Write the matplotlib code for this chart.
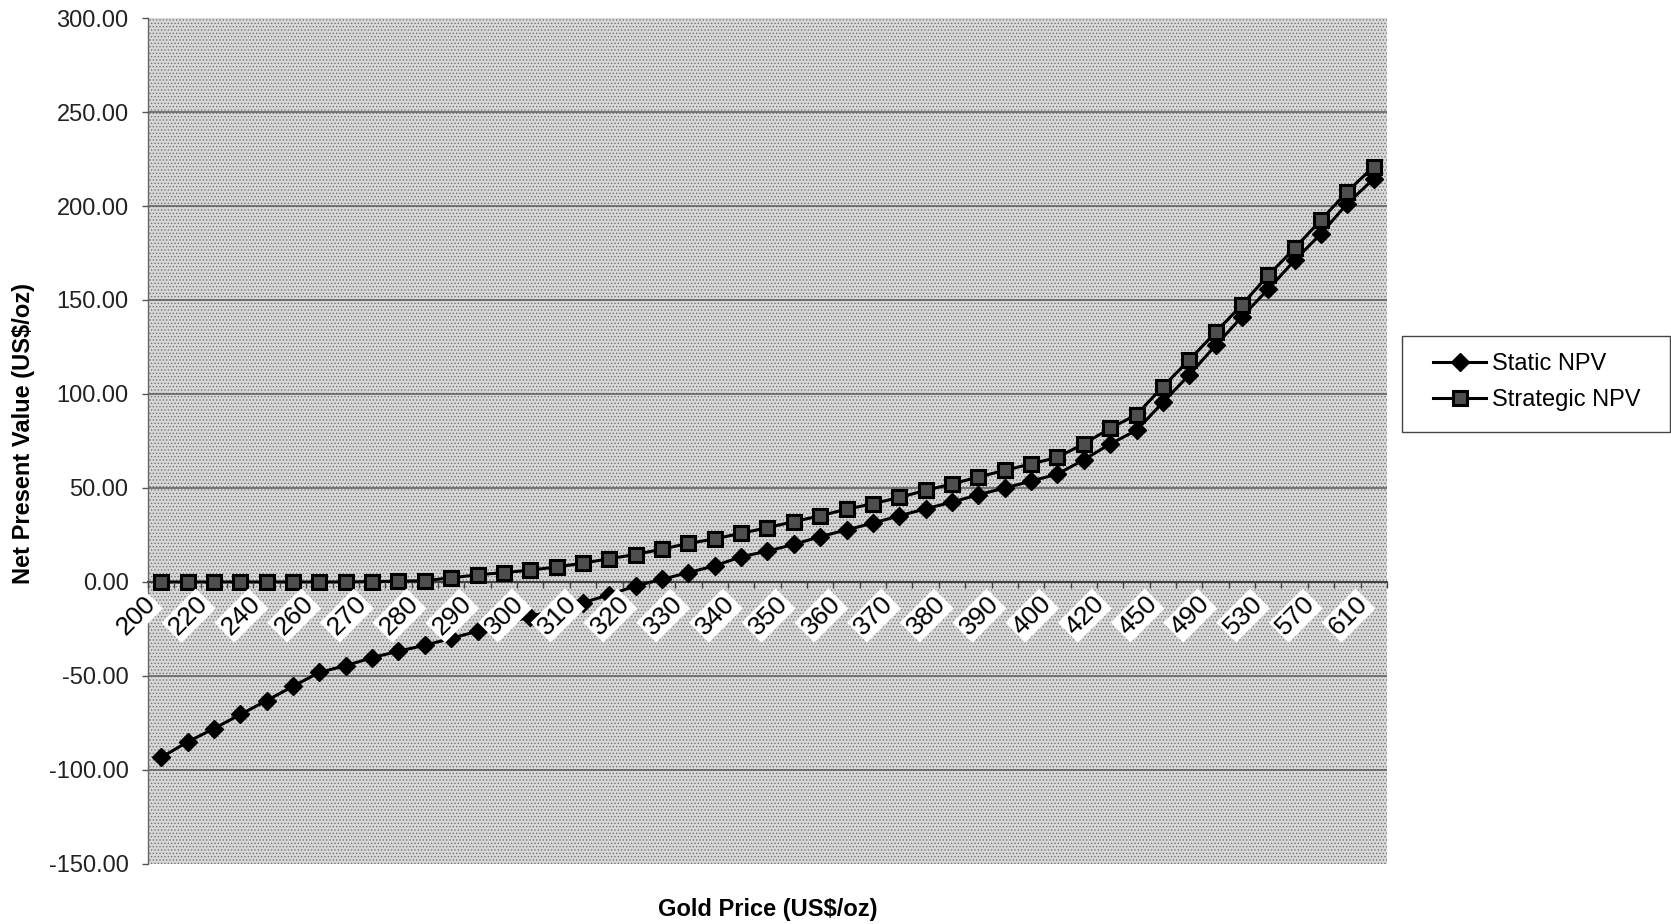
import matplotlib
matplotlib.use("Agg")
import matplotlib.pyplot as plt
import matplotlib.transforms as mtransforms
from matplotlib.patches import Rectangle
import numpy as np

plt.rcParams['font.family'] = ['Liberation Sans', 'DejaVu Sans']
plt.rcParams['hatch.linewidth'] = 0.6

# Gold price scenarios (US$/oz) and NPV results
gold_price = [200, 210, 220, 230, 240, 250, 260, 265, 270, 275, 280, 285,
              290, 295, 300, 305, 310, 315, 320, 325, 330, 335, 340, 345,
              350, 355, 360, 365, 370, 375, 380, 385, 390, 395, 400, 410,
              420, 435, 450, 470, 490, 510, 530, 550, 570, 590, 610]

static_npv = [-93.3, -85.1, -78.0, -70.5, -63.1, -55.5, -48.1, -44.5, -40.3,
              -36.8, -33.7, -30.0, -26.2, -22.4, -18.4, -14.7, -11.0, -6.8,
              -2.1, 1.4, 5.0, 8.6, 13.4, 16.4, 20.0, 24.1, 27.7, 31.3, 35.2,
              38.9, 42.5, 46.4, 50.0, 53.6, 57.4, 65.0, 73.4, 80.7, 95.5,
              110.2, 125.8, 141.1, 155.8, 171.1, 185.3, 201.3, 214.5]

strategic_npv = [0.0, 0.0, 0.0, 0.0, 0.0, 0.0, 0.0, 0.0, 0.2, 0.4, 0.7, 2.2,
                 3.8, 5.0, 6.3, 8.0, 10.0, 12.4, 14.6, 17.5, 20.5, 22.9, 25.9,
                 28.9, 32.1, 35.2, 38.7, 41.6, 45.0, 48.7, 52.2, 55.8, 59.4,
                 62.8, 66.3, 73.5, 81.7, 89.0, 103.9, 118.1, 132.8, 147.5,
                 163.2, 177.5, 192.6, 207.7, 221.0]

y_ticks = [-150, -100, -50, 0, 50, 100, 150, 200, 250, 300]

x = np.arange(len(gold_price))

fig = plt.figure(figsize=(16.71, 9.24), dpi=100)
ax = fig.add_axes([0.0886, 0.065, 0.7414, 0.9155])

# stippled plot area (hatch takes the patch edge colour)
ax.patch.set_facecolor('#d8d8d8')
ax.patch.set_edgecolor('#727272')
ax.patch.set_linewidth(0)
ax.patch.set_hatch('.....')

for v in y_ticks:
    if v not in (0, y_ticks[0], y_ticks[-1]):
        ax.axhline(v, color='#5a5a5a', lw=1.1, zorder=1)

ax.plot(x, static_npv, color='black', lw=2.2, marker='D', ms=9,
        mfc='black', mec='black', label='Static NPV', zorder=2)
ax.plot(x, strategic_npv, color='black', lw=2.2, marker='s', ms=9.5,
        mfc='#4e4e4e', mec='black', mew=2.2, label='Strategic NPV', zorder=2)

ax.set_xlim(-0.5, len(gold_price) - 0.5)
ax.set_ylim(y_ticks[0], y_ticks[-1])

for side in ['top', 'right']:
    ax.spines[side].set_visible(False)
ax.spines['bottom'].set_position(('data', 0))
ax.spines['bottom'].set_color('#333333')
ax.spines['bottom'].set_linewidth(1.3)
ax.spines['left'].set_color('#666666')
ax.spines['left'].set_linewidth(1.0)
for sp in ax.spines.values():
    sp.set_zorder(1.5)
ax.set_axisbelow(False)

ax.set_yticks(y_ticks)
ax.set_yticklabels([f'{v:.2f}' for v in y_ticks])
ax.tick_params(axis='y', direction='out', length=4, width=1, color='#555555',
               pad=10, labelsize=17, labelcolor='#222222')

# category boundaries get the tick marks, every second category gets a label
ax.set_xticks(np.arange(len(gold_price) + 1) - 0.5)
ax.set_xticklabels([])
ax.tick_params(axis='x', which='major', direction='out', length=4, width=1,
               color='#444444')
ax.set_xticks(x[::2], [str(p) for p in gold_price[::2]], minor=True)
ax.tick_params(axis='x', which='minor', length=0, pad=13, labelsize=19)
shift = mtransforms.ScaledTranslation(-7 / 72, 0, fig.dpi_scale_trans)
for lbl in ax.get_xticklabels(minor=True):
    lbl.set_rotation(45)
    lbl.set_ha('right')
    lbl.set_va('center')
    lbl.set_rotation_mode('anchor')
    lbl.set_bbox(dict(facecolor='white', edgecolor='none', pad=1.5))
    lbl.set_transform(lbl.get_transform() + shift)

ax.set_xlabel('Gold Price (US$/oz)', fontsize=17, fontweight='bold')
ax.xaxis.set_label_coords(0.5, -0.040)
ax.set_ylabel('Net Present Value (US$/oz)', fontsize=17, fontweight='bold')
ax.yaxis.set_label_coords(-0.091, 0.509)

# legend with a separate frame box
fig.patches.append(Rectangle((0.839, 0.5325), 0.1605, 0.104,
                             transform=fig.transFigure, fill=False,
                             edgecolor='#444444', lw=1.0))
fig.legend(loc='center left', bbox_to_anchor=(0.8576, 0.5866), frameon=False,
           fontsize=17, handlelength=2.25, handletextpad=0.25,
           labelspacing=0.6, borderpad=0, borderaxespad=0)

fig.savefig('out.png', dpi=100)
